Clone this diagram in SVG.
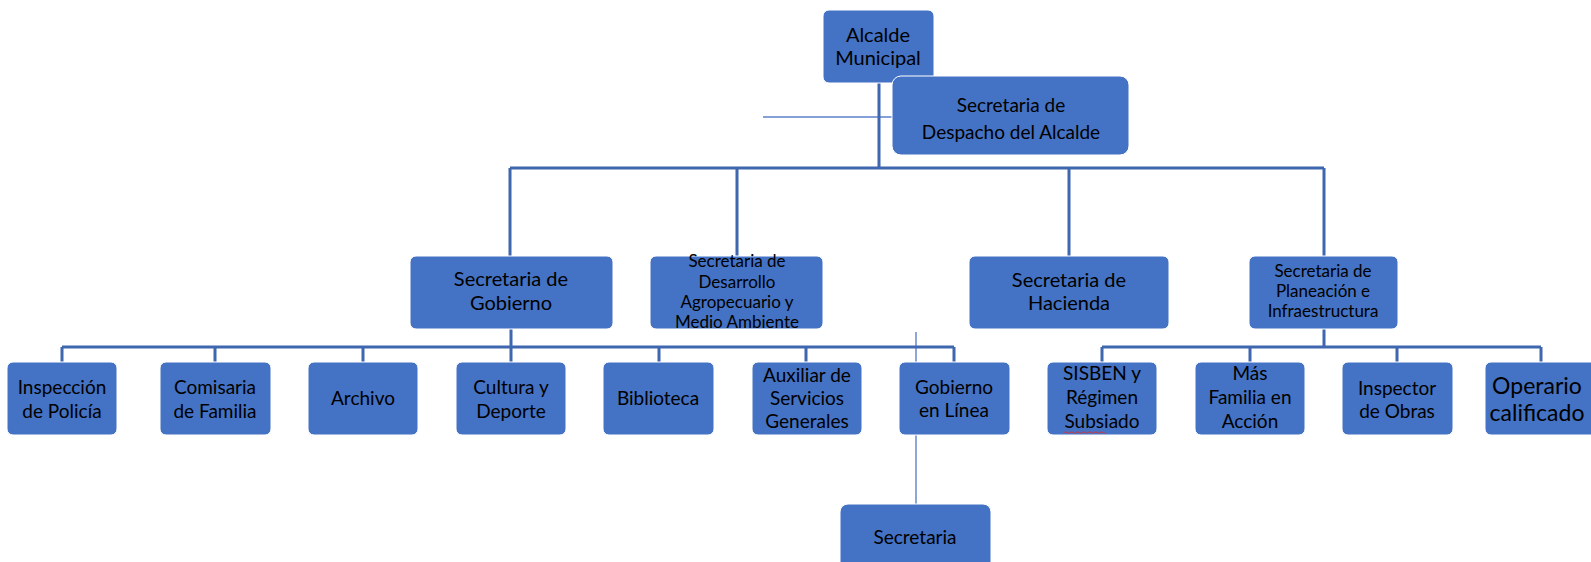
<svg xmlns="http://www.w3.org/2000/svg" width="1591" height="562" viewBox="0 0 1591 562">
<style>
.box{fill:#4472C4;stroke:#ffffff;stroke-width:1}
.t{font-family:Lato,"Liberation Sans",sans-serif;font-size:19px;fill:#000;text-anchor:middle}
.m{font-size:20px}
.s{font-size:17px}
.b{font-size:23px}
.c{fill:none;stroke:#3F67B0;stroke-width:3}
.thin{fill:none;stroke:#5B80C8;stroke-width:1.4}
</style>
<rect width="1591" height="562" fill="#ffffff"/>
<g id="connectors">
<line class="thin" x1="763" y1="117" x2="893" y2="117"/>
<line class="thin" x1="916" y1="332" x2="916" y2="505"/>
<path class="c" d="M879 83V168M510 168H1324M510 168V256M737 168V256M1069 168V256M1324 168V256"/>
<path class="c" d="M511 329V347M62 347H954M62 347V362M215 347V362M363 347V362M511 347V362M659 347V362M806 347V362M954 347V362"/>
<path class="c" d="M1324 329V347M1102 347H1541M1102 347V362M1250 347V362M1397 347V362M1541 347V362"/>
</g>
<g id="alcalde"><rect class="box" x="823" y="10" width="111" height="73" rx="6"/><text class="t m" x="878" y="42">Alcalde</text><text class="t m" x="878" y="65">Municipal</text></g>
<g id="despacho"><rect class="box" x="892" y="76" width="237" height="79" rx="9"/><text class="t" x="1011" y="112">Secretaria de</text><text class="t" x="1011" y="139">Despacho del Alcalde</text></g>
<g id="gobierno"><rect class="box" x="410" y="256" width="203" height="73" rx="6"/><text class="t m" x="511" y="286">Secretaria de</text><text class="t m" x="511" y="310">Gobierno</text></g>
<g id="desarrollo"><rect class="box" x="650" y="256" width="173" height="73" rx="6"/><text class="t s" x="737" y="267">Secretaria de</text><text class="t s" x="737" y="288">Desarrollo</text><text class="t s" x="737" y="308">Agropecuario  y</text><text class="t s" x="737" y="328">Medio Ambiente</text></g>
<g id="hacienda"><rect class="box" x="969" y="256" width="200" height="73" rx="6"/><text class="t m" x="1069" y="287">Secretaria de</text><text class="t m" x="1069" y="310">Hacienda</text></g>
<g id="planeacion"><rect class="box" x="1249" y="256" width="149" height="73" rx="6"/><text class="t s" x="1323" y="277">Secretaria de</text><text class="t s" x="1323" y="297">Planeación e</text><text class="t s" x="1323" y="317">Infraestructura</text></g>
<g id="inspeccion"><rect class="box" x="7" y="362" width="110" height="73" rx="6"/><text class="t" x="62" y="394">Inspección</text><text class="t" x="62" y="418">de Policía</text></g>
<g id="comisaria"><rect class="box" x="160" y="362" width="111" height="73" rx="6"/><text class="t" x="215" y="394">Comisaria</text><text class="t" x="215" y="418">de Familia</text></g>
<g id="archivo"><rect class="box" x="308" y="362" width="110" height="73" rx="6"/><text class="t" x="363" y="405">Archivo</text></g>
<g id="cultura"><rect class="box" x="456" y="362" width="110" height="73" rx="6"/><text class="t" x="511" y="394">Cultura y</text><text class="t" x="511" y="418">Deporte</text></g>
<g id="biblioteca"><rect class="box" x="603" y="362" width="111" height="73" rx="6"/><text class="t" x="658" y="405">Biblioteca</text></g>
<g id="auxiliar"><rect class="box" x="752" y="362" width="110" height="73" rx="6"/><text class="t" x="807" y="382">Auxiliar de</text><text class="t" x="807" y="405">Servicios</text><text class="t" x="807" y="428">Generales</text></g>
<g id="gobiernolinea"><rect class="box" x="899" y="362" width="111" height="73" rx="6"/><text class="t" x="954" y="394">Gobierno</text><text class="t" x="954" y="417">en Línea</text></g>
<g id="sisben"><rect class="box" x="1047" y="362" width="110" height="73" rx="6"/><text class="t" x="1102" y="380">SISBEN y</text><text class="t" x="1102" y="404">Régimen</text><text class="t" x="1102" y="428">Subsiado</text><path d="M1064 432.5q1.5-1.5 3 0t3 0 3 0 3 0 3 0 3 0 3 0 3 0 3 0 3 0 3 0 3 0 3 0 3 0" fill="none" stroke="#E03030" stroke-width="0.9"/></g>
<g id="masfamilia"><rect class="box" x="1195" y="362" width="110" height="73" rx="6"/><text class="t" x="1250" y="380">Más</text><text class="t" x="1250" y="404">Familia en</text><text class="t" x="1250" y="428">Acción</text></g>
<g id="inspector"><rect class="box" x="1342" y="362" width="111" height="73" rx="6"/><text class="t" x="1397" y="395">Inspector</text><text class="t" x="1397" y="418">de Obras</text></g>
<g id="operario"><rect class="box" x="1485" y="362" width="112" height="73" rx="6"/><text class="t b" x="1537" y="394">Operario</text><text class="t b" x="1537" y="421">calificado</text></g>
<g id="secretaria"><rect class="box" x="840" y="504" width="151" height="70" rx="8"/><text class="t" x="915" y="544">Secretaria</text></g>
</svg>
